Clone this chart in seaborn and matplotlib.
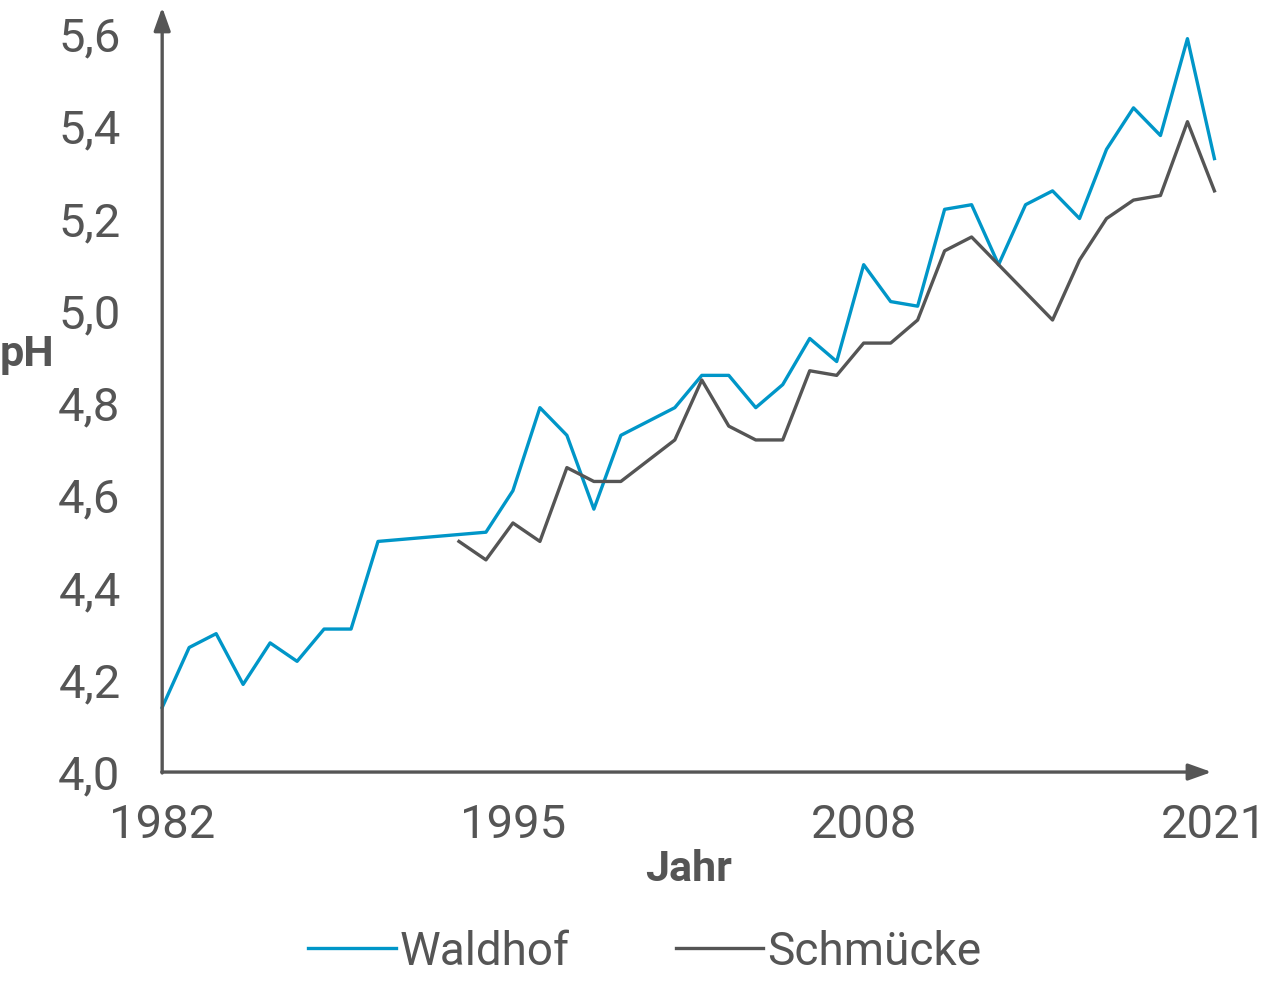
import matplotlib
matplotlib.use("Agg")
import matplotlib.pyplot as plt
import seaborn as sns
import pandas as pd

waldhof_years = [1982, 1983, 1984, 1985, 1986, 1987, 1988, 1989, 1990, 1994, 1995,
                 1996, 1997, 1998, 1999, 2001, 2002, 2003, 2004, 2005, 2006, 2007,
                 2008, 2009, 2010, 2011, 2012, 2013, 2014, 2015, 2016, 2017, 2018,
                 2019, 2020, 2021]
waldhof_ph = [4.14, 4.27, 4.30, 4.19, 4.28, 4.24, 4.31, 4.31, 4.50, 4.52, 4.61,
              4.79, 4.73, 4.57, 4.73, 4.79, 4.86, 4.86, 4.79, 4.84, 4.94, 4.89,
              5.10, 5.02, 5.01, 5.22, 5.23, 5.10, 5.23, 5.26, 5.20, 5.35, 5.44,
              5.38, 5.59, 5.33]
schmuecke_years = [1993, 1994, 1995, 1996, 1997, 1998, 1999, 2001, 2002, 2003, 2004,
                   2005, 2006, 2007, 2008, 2009, 2010, 2011, 2012, 2013, 2015, 2016,
                   2017, 2018, 2019, 2020, 2021]
schmuecke_ph = [4.50, 4.46, 4.54, 4.50, 4.66, 4.63, 4.63, 4.72, 4.85, 4.75, 4.72,
                4.72, 4.87, 4.86, 4.93, 4.93, 4.98, 5.13, 5.16, 5.10, 4.98, 5.11,
                5.20, 5.24, 5.25, 5.41, 5.26]
x_ticks = [1982, 1995, 2008, 2021]
y_ticks = [4.0, 4.2, 4.4, 4.6, 4.8, 5.0, 5.2, 5.4, 5.6]

grey = "#555555"
blue = "#0096c8"
plt.rcParams["font.family"] = "Roboto"

df = pd.concat([
    pd.DataFrame({"Jahr": waldhof_years, "pH": waldhof_ph, "Station": "Waldhof"}),
    pd.DataFrame({"Jahr": schmuecke_years, "pH": schmuecke_ph, "Station": "Schmücke"}),
])

fig = plt.figure(figsize=(12.77, 9.84), dpi=100)
ax = fig.add_axes([0.127, 0.2154, 0.824, 0.75])
sns.lineplot(data=df, x="Jahr", y="pH", hue="Station",
             palette={"Waldhof": blue, "Schmücke": grey}, linewidth=2.4,
             ax=ax, legend=False)
for l in ax.lines:
    l.set_clip_on(False)

ax.set_xlim(1982, 2021)
ax.set_ylim(4.0, 5.6)
for s in ax.spines.values():
    s.set_visible(False)
ax.annotate("", xy=(0, 1.04), xytext=(0, -0.005), xycoords="axes fraction",
            arrowprops=dict(arrowstyle="-|>,head_length=1.4,head_width=0.5",
                            color=grey, lw=2.4))
ax.annotate("", xy=(1.0, 0), xytext=(-0.003, 0), xycoords="axes fraction",
            arrowprops=dict(arrowstyle="-|>,head_length=1.4,head_width=0.5",
                            color=grey, lw=2.4))

ax.set_xticks(x_ticks)
ax.set_yticks(y_ticks)
ax.set_yticklabels([f"{v:.1f}".replace(".", ",") for v in y_ticks])
ax.tick_params(length=0, labelsize=34, colors=grey)
ax.tick_params(axis="x", pad=22)
ax.tick_params(axis="y", pad=30)
ax.set_xlabel("Jahr", fontsize=31, fontweight="bold", color=grey, labelpad=2)
ax.set_ylabel("")
fig.text(0.0, 0.64, "pH", fontsize=31, fontweight="bold", color=grey, va="center")

handles = [plt.Line2D([], [], color=blue, lw=2.4),
           plt.Line2D([], [], color=grey, lw=2.4)]
fig.legend(handles, ["Waldhof", "Schmücke"], loc="center", bbox_to_anchor=(0.505, 0.033),
           ncol=2, frameon=False, fontsize=33, labelcolor=grey, handlelength=1.9,
           handletextpad=0.1, columnspacing=2.3)

fig.savefig("out.png", dpi=100)
